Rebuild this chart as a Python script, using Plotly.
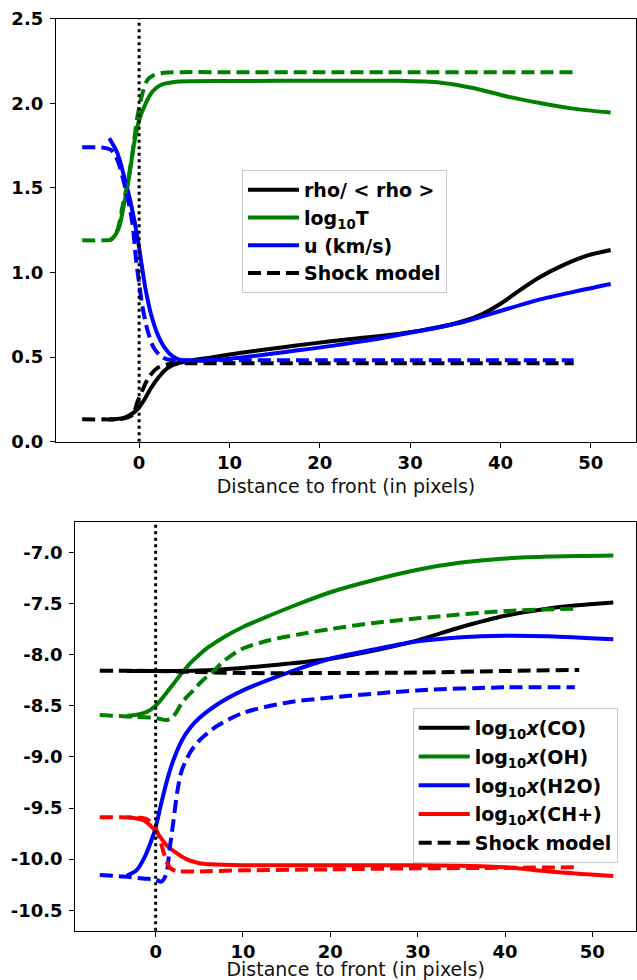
import plotly.graph_objects as go

# ---------------- Top panel data ----------------
rho_x = [-3.3, -2.5, -1.6, -0.7, -0.2, 0.55, 1.3, 2.2, 3.1, 4.2, 5, 6, 8, 10, 14, 17.6, 21, 24.3, 28.7, 33, 36, 38, 40, 42, 44.1, 47, 49.6, 52.2]
rho_y = [0.132, 0.134, 0.142, 0.168, 0.191, 0.246, 0.316, 0.384, 0.434, 0.463, 0.472, 0.482, 0.498, 0.515, 0.545, 0.57, 0.592, 0.611, 0.637, 0.675, 0.715, 0.755, 0.815, 0.89, 0.965, 1.045, 1.1, 1.133]

logT_x = [-3.3, -2.8, -2.2, -1.65, -1.1, -0.55, 0.0, 0.73, 1.47, 2.39, 3.86, 6, 10, 20, 28.7, 33.4, 37.1, 40.8, 44.5, 47.8, 52.2]
logT_y = [1.19, 1.21, 1.271, 1.409, 1.566, 1.764, 1.901, 2.0, 2.069, 2.108, 2.126, 2.13, 2.132, 2.133, 2.133, 2.122, 2.089, 2.039, 2.0, 1.97, 1.945]

u_x = [-3.3, -2.4, -1.65, -0.92, -0.19, 0.37, 0.73, 1.29, 2.0, 2.76, 3.68, 4.6, 6, 10, 17.6, 24.3, 28.7, 36, 39.7, 44.1, 48.2, 52.2]
u_y = [1.793, 1.705, 1.566, 1.409, 1.21, 1.015, 0.897, 0.759, 0.641, 0.561, 0.506, 0.483, 0.478, 0.49, 0.54, 0.59, 0.631, 0.709, 0.768, 0.837, 0.887, 0.932]

# shock model (top)
rho_s_x = [-6.3, -4.0, -2.0, -0.73, -0.18, 0.37, 1.1, 2.0, 3.0, 4.0, 6, 10, 20, 30, 40, 48.1]
rho_s_y = [0.132, 0.132, 0.134, 0.158, 0.236, 0.305, 0.384, 0.435, 0.455, 0.462, 0.463, 0.463, 0.463, 0.463, 0.463, 0.463]

logT_s_x = [-6.3, -4.0, -3.1, -2.4, -1.84, -1.29, -0.74, -0.19, 0.37, 0.92, 1.65, 2.76, 5, 10, 20, 30, 40, 48.1]
logT_s_y = [1.19, 1.19, 1.195, 1.251, 1.389, 1.527, 1.705, 1.921, 2.059, 2.138, 2.167, 2.181, 2.184, 2.184, 2.184, 2.184, 2.184, 2.184]

u_s_x = [-6.3, -4.0, -3.1, -2.4, -1.84, -1.29, -0.74, -0.37, 0.0, 0.37, 0.92, 1.65, 2.57, 3.5, 6, 10, 20, 30, 40, 48.1]
u_s_y = [1.74, 1.738, 1.724, 1.665, 1.566, 1.448, 1.29, 1.093, 0.936, 0.798, 0.66, 0.552, 0.499, 0.483, 0.481, 0.481, 0.481, 0.481, 0.481, 0.481]

# ---------------- Bottom panel data ----------------
co_x = [-3.3, 0, 5, 10, 15, 20, 25, 30, 35, 40, 45, 48, 52.4]
co_y = [-8.16, -8.16, -8.155, -8.13, -8.09, -8.04, -7.96, -7.86, -7.73, -7.62, -7.548, -7.52, -7.49]

oh_x = [-3.3, -2, -1, 0, 1, 2, 3, 4, 5, 6, 8, 10, 13, 16.5, 20, 25, 30, 35, 40, 45, 52.4]
oh_y = [-8.60, -8.585, -8.56, -8.50, -8.40, -8.29, -8.18, -8.08, -8.0, -7.93, -7.82, -7.73, -7.62, -7.50, -7.39, -7.27, -7.17, -7.10, -7.06, -7.04, -7.03]

h2o_x = [-3.3, -2.2, -1.26, -0.5, 0, 0.65, 1.4, 2.0, 3.0, 4.0, 5.0, 7.0, 10, 15, 20, 25, 30, 35, 40, 45, 52.4]
h2o_y = [-10.16, -10.11, -9.98, -9.82, -9.69, -9.45, -9.20, -9.04, -8.84, -8.71, -8.62, -8.49, -8.35, -8.18, -8.04, -7.95, -7.87, -7.83, -7.815, -7.82, -7.85]

chp_x = [-3.3, -1.45, -0.5, 0.07, 1.22, 2.37, 3.5, 5.0, 6.2, 10, 20, 30, 35, 40, 45, 52.4]
chp_y = [-9.59, -9.617, -9.68, -9.73, -9.86, -9.94, -10.0, -10.04, -10.05, -10.06, -10.06, -10.06, -10.065, -10.08, -10.12, -10.165]

# shock model (bottom)
co_s_x = [-6.4, 0, 5, 10, 20, 30, 40, 48.5]
co_s_y = [-8.157, -8.16, -8.17, -8.18, -8.18, -8.175, -8.16, -8.15]

oh_s_x = [-6.4, -2.6, 0, 1.2, 1.8, 2.4, 3.1, 4.3, 5.4, 6.5, 8, 10, 13, 16.5, 20, 25, 30, 40, 48.5]
oh_s_y = [-8.59, -8.607, -8.62, -8.64, -8.625, -8.56, -8.46, -8.35, -8.25, -8.17, -8.05, -7.94, -7.86, -7.80, -7.75, -7.69, -7.645, -7.574, -7.55]

h2o_s_x = [-6.4, -3.7, -1.45, 0, 0.65, 1.2, 1.6, 2.0, 2.5, 3.0, 4.0, 5.0, 7.0, 10, 15, 20, 30, 40, 48]
h2o_s_y = [-10.155, -10.17, -10.19, -10.20, -10.22, -10.15, -9.90, -9.65, -9.33, -9.13, -8.95, -8.84, -8.70, -8.57, -8.47, -8.42, -8.35, -8.32, -8.32]

chp_s_x = [-6.4, -2.0, -1.0, 0.0, 0.5, 1.0, 1.6, 2.4, 3.0, 5.0, 10, 20, 30, 40, 48.3]
chp_s_y = [-9.59, -9.595, -9.61, -9.70, -9.81, -9.96, -10.08, -10.12, -10.12, -10.12, -10.11, -10.10, -10.09, -10.085, -10.08]

# ---------------- ticks / labels ----------------
x_ticks = [0, 10, 20, 30, 40, 50]
y1_ticks = [0.0, 0.5, 1.0, 1.5, 2.0, 2.5]
y1_labels = ["0.0", "0.5", "1.0", "1.5", "2.0", "2.5"]
y2_ticks = [-10.5, -10.0, -9.5, -9.0, -8.5, -8.0, -7.5, -7.0]
y2_labels = ["-10.5", "-10.0", "-9.5", "-9.0", "-8.5", "-8.0", "-7.5", "-7.0"]
x_title = "Distance to front (in pixels)"

BLACK, GREEN, BLUE, RED = "#000000", "#008000", "#0000ff", "#ff0000"
LW = 4
DASH = "13px,6px"
FONT = "DejaVu Sans"

fig = go.Figure()

def add(x, y, color, name, dash=None, xa="x", ya="y", legend="legend", show=True):
    fig.add_trace(go.Scatter(
        x=x, y=y, mode="lines", name=name, xaxis=xa, yaxis=ya,
        line=dict(color=color, width=LW, dash=dash or "solid", shape="spline", smoothing=0.8),
        showlegend=show, legend=legend, legendgroup=name,
    ))

# top panel
add(rho_x, rho_y, BLACK, "rho/ < rho >")
add(logT_x, logT_y, GREEN, "log<sub>10</sub>T")
add(u_x, u_y, BLUE, "u (km/s)")
add(rho_s_x, rho_s_y, BLACK, "rho shock", DASH, show=False)
add(logT_s_x, logT_s_y, GREEN, "T shock", DASH, show=False)
add(u_s_x, u_s_y, BLUE, "u shock", DASH, show=False)
fig.add_trace(go.Scatter(x=[None], y=[None], mode="lines", name="Shock model", legendgroup="shock1",
                         line=dict(color=BLACK, width=LW, dash=DASH), legend="legend"))

# bottom panel
add(co_x, co_y, BLACK, "log<sub>10</sub><i>x</i>(CO)", xa="x2", ya="y2", legend="legend2")
add(oh_x, oh_y, GREEN, "log<sub>10</sub><i>x</i>(OH)", xa="x2", ya="y2", legend="legend2")
add(h2o_x, h2o_y, BLUE, "log<sub>10</sub><i>x</i>(H2O)", xa="x2", ya="y2", legend="legend2")
add(chp_x, chp_y, RED, "log<sub>10</sub><i>x</i>(CH+)", xa="x2", ya="y2", legend="legend2")
add(co_s_x, co_s_y, BLACK, "CO shock", DASH, xa="x2", ya="y2", legend="legend2", show=False)
add(oh_s_x, oh_s_y, GREEN, "OH shock", DASH, xa="x2", ya="y2", legend="legend2", show=False)
add(h2o_s_x, h2o_s_y, BLUE, "H2O shock", DASH, xa="x2", ya="y2", legend="legend2", show=False)
add(chp_s_x, chp_s_y, RED, "CH+ shock", DASH, xa="x2", ya="y2", legend="legend2", show=False)
fig.add_trace(go.Scatter(x=[None], y=[None], mode="lines", name="Shock model", xaxis="x2", yaxis="y2",
                         legendgroup="shock2",
                         line=dict(color=BLACK, width=LW, dash=DASH), legend="legend2"))

# vertical dotted lines at the front
for xr, yr in (("x", "y domain"), ("x2", "y2 domain")):
    fig.add_shape(type="line", xref=xr, yref=yr, x0=0, x1=0, y0=0, y1=1,
                  line=dict(color=BLACK, width=3, dash="3px,3.5px"), layer="above")

W, H = 637, 980
tickfont = dict(family=FONT, size=18, color="black", weight="bold")
titlefont = dict(family=FONT, size=19, color="#111111")
common_x = dict(range=[-9.2, 55.0], tickvals=x_ticks, ticks="outside", ticklen=5, tickwidth=1.2,
                tickcolor="black", showline=True, linecolor="black", linewidth=1.3, mirror=True,
                showgrid=False, zeroline=False, tickfont=tickfont, automargin=False,
                title=dict(text=x_title, font=titlefont, standoff=7))
common_y = dict(ticks="outside", ticklen=5, tickwidth=1.2, tickcolor="black", showline=True,
                linecolor="black", linewidth=1.3, mirror=True, showgrid=False, zeroline=False,
                tickfont=tickfont, automargin=False, ticklabelstandoff=3)

legend_common = dict(font=dict(family=FONT, size=19, color="black", weight="bold"),
                     bgcolor="rgba(255,255,255,0.8)", bordercolor="#cccccc", borderwidth=1,
                     xanchor="left", yanchor="top", itemwidth=51)

fig.update_layout(
    width=W, height=H, autosize=False, margin=dict(l=0, r=0, t=0, b=0),
    paper_bgcolor="white", plot_bgcolor="white", template="none",
    xaxis=dict(domain=[56 / W, 636 / W], anchor="y", **common_x),
    yaxis=dict(domain=[1 - 441.7 / H, 1 - 18.7 / H], anchor="x", range=[0, 2.5],
               tickvals=y1_ticks, ticktext=y1_labels, **common_y),
    xaxis2=dict(domain=[75.3 / W, 636 / W], anchor="y2", **common_x),
    yaxis2=dict(domain=[1 - 930.7 / H, 1 - 521.7 / H], anchor="x2", range=[-10.70, -6.70],
                tickvals=y2_ticks, ticktext=y2_labels, **common_y),
    legend=dict(x=242 / W, y=1 - 170 / H, tracegroupgap=0, **legend_common),
    legend2=dict(x=412.7 / W, y=1 - 708 / H, tracegroupgap=1, **legend_common),
)

post = ("document.body.style.margin='0';document.body.style.padding='0';"
        "document.body.style.overflow='hidden';"
        "var gd=document.getElementById('{plot_id}');"
        "Plotly.relayout(gd,{width:637,height:980});")

fig.write_html("out.html", config={"responsive": False, "displayModeBar": False}, post_script=post)
